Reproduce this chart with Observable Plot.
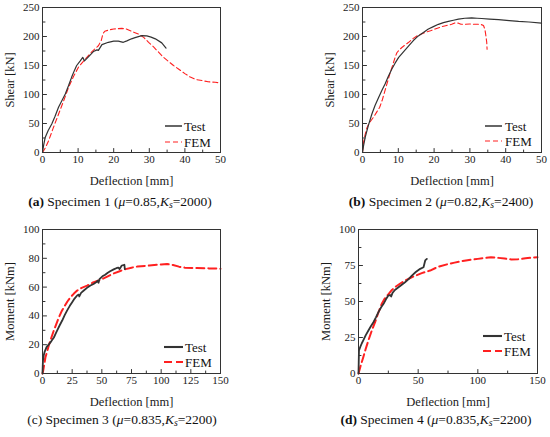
<!DOCTYPE html>
<html><head><meta charset="utf-8">
<script src="https://cdn.jsdelivr.net/npm/d3@7"></script>
<script src="https://cdn.jsdelivr.net/npm/@observablehq/plot@0.6"></script>
<style>
body{margin:0;background:#fff;}
#wrap{position:relative;width:550px;height:437px;overflow:hidden;font-family:'Liberation Serif','Times New Roman',serif;background:#fff;}
.panel{position:absolute;width:275px;height:218px;}
.panel svg{position:absolute;left:0;top:0;}
.cap{position:absolute;width:300px;text-align:center;font-size:13.5px;color:#111;white-space:nowrap;line-height:16px;}
.cap sub{font-size:0.72em;vertical-align:-0.25em;line-height:0;}
svg g[aria-label="x-axis label"] text, svg g[aria-label="y-axis label"] text{font-size:12.5px !important;}
</style>
</head><body>
<div id="wrap"></div>
<script>
// ---------- data ----------
const testA = [[0,0],[0.3,12],[0.75,26],[1.6,38],[2.6,49],[3.5,62],[4.5,78],[5.5,90],[6.4,101],[7.3,115],[8.2,130],[9,142],[9.6,150],[10.6,158],[11.3,164],[11.8,158],[12.9,165],[14.3,174],[15.3,177],[15.7,176],[16.7,186],[18.5,190],[20,192],[21.3,192],[22.7,190],[23.7,192.5],[25,196],[26,198],[27.9,201.5],[29.3,201],[30.5,199],[31.7,196],[33.5,189],[34.7,180]];
const femA = [[0,0],[0.8,8],[1.7,20],[3,42],[4.5,66],[6,90],[7.3,112],[8.7,131],[10.1,147],[12,161],[13.9,174],[15.7,184],[16.5,193],[17,205],[17.5,209],[18.5,211],[20,213],[22.3,214],[23.5,213],[25,209],[27,204],[28.5,198],[29.8,190],[31.2,182],[32.6,173],[34,164],[35.4,157],[36.8,150],[38.2,144],[40,136],[41.5,130],[43,126],[44.8,124],[46.5,122],[48.5,121],[50,120]];
const testB = [[0,0],[0.3,12],[0.75,26],[1.6,46],[2.6,66],[3.5,81],[4.5,95],[5.4,107],[6.3,118],[7.2,131],[8.2,144],[9.1,154],[10.1,164],[11.5,174],[12.9,184],[14.2,193],[15.6,201],[17,207],[18.4,213],[19.8,217],[21.2,221],[22.6,224],[24,226],[25.4,228],[26.8,230],[28.6,231.5],[30.5,232],[32,231.5],[33.3,231],[35.5,230],[38,229],[41,227.5],[43.6,226],[46.5,225],[50,223]];
const femB = [[0,0],[0.3,18],[0.7,30],[1.2,42],[1.8,50],[2.5,56],[3.2,62],[4,70],[4.8,78],[5.5,90],[6.2,105],[7,122],[7.7,137],[8.4,150],[9,162],[9.6,172],[10.3,177],[11,181],[12,186],[12.9,190],[14,196],[15.2,201],[16.3,204],[17.5,207],[19,210],[20.3,213],[22.2,217],[23.5,219],[24.9,221],[26,224],[26.8,223],[27.5,221],[28.7,221],[30,221.5],[31.5,221],[33,221],[33.8,219],[34.2,212],[34.5,200],[34.7,190],[34.8,178]];
const testC = [[0,0],[0.2,5],[0.4,9],[1,12.5],[1.7,14.8],[3.4,18.3],[5.7,20.6],[7.5,22.5],[9.6,25],[11,27.5],[12.4,29.9],[14.5,33.5],[16.6,36.8],[18.7,40.5],[20.8,43.8],[23,47],[25,49.5],[27,52],[29.2,54.2],[30.5,54.8],[31,53.5],[32.5,56],[34.8,57.6],[37.5,59.5],[40.4,61.1],[43,62.2],[45.5,63.5],[46.5,64.5],[47.2,63],[48,65.5],[50.5,67.5],[52.8,68.6],[55,70],[57,71],[60,72.3],[62.6,73.3],[64,73.5],[65,72.5],[66.8,75],[69,75.5],[69.4,72.5]];
const femC = [[0,0],[0.6,2],[1.5,6.5],[2.5,11.3],[4,15.5],[5.3,19.4],[7.5,25],[9.6,30],[11.7,34.5],[13.8,39],[16,43],[18,46],[21,50],[23.6,53],[26.5,55.5],[29.2,57.6],[33,59.5],[37.6,61],[42,63],[47.4,64.6],[50,65.5],[55,67.5],[60,69.5],[65,71],[70,72.5],[75,73.5],[80,74.3],[90,75],[100,75.7],[105,76],[110,75.3],[115,74.2],[120,73.5],[130,73.2],[140,73],[150,72.8]];
const testD = [[0,0],[0.2,8],[0.4,16],[1.5,18.5],[2.8,21],[4,23],[6,26.5],[8.3,29.9],[10.5,33],[12.5,35.6],[14.6,39],[16.7,42.6],[19,46],[21,48.4],[23,51.5],[25,54.2],[26.5,54.5],[27.4,53.5],[28.5,56],[30.5,58],[33.5,59.9],[36,61.5],[39,63.4],[42,65.5],[44.7,68],[48,70.5],[51.7,72.7],[54.5,73.8],[55.9,78.5],[57.3,79.6]];
const femD = [[0,0],[1,3],[2,6],[4,11.3],[6,17],[8.3,23],[11,29.5],[13.9,35.6],[16.5,42],[19.5,48.4],[22,52],[25,55],[28,58],[30.7,60],[35,62.5],[39,64.6],[45,67],[53,69.7],[60,71.5],[66.5,74],[75,76],[80.5,77],[90,78.5],[100,79.6],[111,80.8],[115,80.5],[122.5,79.8],[128,79.2],[133.6,79.3],[140,80],[150,80.8]];

const xTicksAB = [0,10,20,30,40,50];
const yTicksAB = [0,50,100,150,200,250];
const xTicksC = [0,25,50,75,100,125,150];
const yTicksC = [0,20,40,60,80,100];
const xTicksD = [0,50,100,150];
const yTicksD = [0,25,50,75,100];
const seriesNames = ["Test","FEM"];
const captions = [
  '<b>(a)</b> Specimen 1 (<i>μ</i>=0.85,<i>K<sub>s</sub></i>=2000)',
  '<b>(b)</b> Specimen 2 (<i>μ</i>=0.82,<i>K<sub>s</sub></i>=2400)',
  '(c) Specimen 3 (<i>μ</i>=0.835,<i>K<sub>s</sub></i>=2200)',
  '<b>(d)</b> Specimen 4 (<i>μ</i>=0.835,<i>K<sub>s</sub></i>=2200)'
];

// ---------- drawing ----------
const FONT = "'Liberation Serif','Times New Roman',serif";
const DARK = "#333333", RED = "#ff2020";
const tickShape = {draw(ctx, l){ ctx.moveTo(0,0); ctx.lineTo(0,-l); }};
const toObj = a => a.map(([x,y]) => ({x,y}));
const wrap = document.getElementById("wrap");

function minorOf(ticks){
  const out = [];
  for (let i = 0; i < ticks.length - 1; i++) out.push((ticks[i] + ticks[i+1]) / 2);
  return out;
}

function panel(cfg){
  const div = document.createElement("div");
  div.className = "panel";
  div.style.left = cfg.left + "px";
  div.style.top = cfg.top + "px";
  wrap.appendChild(div);
  const xt = cfg.xTicks, yt = cfg.yTicks;
  const svg = Plot.plot({
    width: 275, height: 190,
    marginLeft: cfg.ml, marginRight: cfg.mr, marginTop: cfg.mt, marginBottom: 190 - cfg.fb,
    style: {fontFamily: FONT, fontSize: "11px", color: "#1a1a1a", background: "transparent"},
    x: {domain: [xt[0], xt[xt.length-1]], ticks: xt, tickSize: 0, tickPadding: 3,
        label: "Deflection [mm]", labelAnchor: "center", labelArrow: "none", labelOffset: 32},
    y: {domain: [yt[0], yt[yt.length-1]], ticks: yt, tickSize: 0, tickPadding: 3,
        label: cfg.ylabel, labelAnchor: "center", labelArrow: "none", labelOffset: 37},
    marks: [
      Plot.vector(xt, {x: d => d, frameAnchor: "bottom", length: 4, rotate: 0, anchor: "start", shape: tickShape, stroke: DARK, strokeWidth: 1}),
      Plot.vector(minorOf(xt), {x: d => d, frameAnchor: "bottom", length: 2.5, rotate: 0, anchor: "start", shape: tickShape, stroke: DARK, strokeWidth: 1}),
      Plot.vector(yt, {y: d => d, frameAnchor: "left", length: 4, rotate: 90, anchor: "start", shape: tickShape, stroke: DARK, strokeWidth: 1}),
      Plot.vector(minorOf(yt), {y: d => d, frameAnchor: "left", length: 2.5, rotate: 90, anchor: "start", shape: tickShape, stroke: DARK, strokeWidth: 1}),
      Plot.line(toObj(cfg.fem), {x: "x", y: "y", stroke: RED, strokeWidth: cfg.fw, strokeDasharray: cfg.dash, curve: "linear"}),
      Plot.line(toObj(cfg.test), {x: "x", y: "y", stroke: DARK, strokeWidth: cfg.tw, curve: "linear"}),
      Plot.frame({stroke: DARK, strokeWidth: 1})
    ]
  });
  div.appendChild(svg);
  // legend
  const g = d3.select(svg).append("g").attr("font-family", FONT).attr("font-size", 13)
    .attr("fill", "#111").attr("text-anchor", "start");
  const L = cfg.legend;
  g.append("line").attr("x1", L.x1).attr("x2", L.x2).attr("y1", L.y1).attr("y2", L.y1)
    .attr("stroke", DARK).attr("stroke-width", cfg.tw + 0.3);
  g.append("line").attr("x1", L.x1).attr("x2", L.x2).attr("y1", L.y2).attr("y2", L.y2)
    .attr("stroke", RED).attr("stroke-width", cfg.fw).attr("stroke-dasharray", cfg.dash);
  g.append("text").attr("x", L.tx).attr("y", L.y1).attr("dy", "0.35em").attr("text-anchor", "start").text(seriesNames[0]);
  g.append("text").attr("x", L.tx).attr("y", L.y2).attr("dy", "0.35em").attr("text-anchor", "start").text(seriesNames[1]);
  // caption
  const cap = document.createElement("div");
  cap.className = "cap";
  cap.innerHTML = cfg.caption;
  cap.style.left = (cfg.cx - 150) + "px";
  cap.style.top = (cfg.cy - 8) + "px";
  div.appendChild(cap);
}

panel({left:0, top:0, ml:42, mr:55, mt:7, fb:152, xTicks:xTicksAB, yTicks:yTicksAB, ylabel:"Shear [kN]",
  test:testA, fem:femA, tw:1.2, fw:1.1, dash:"5,3",
  legend:{x1:165, x2:182, tx:184, y1:126, y2:142}, caption:captions[0], cx:120, cy:202});
panel({left:275, top:0, ml:87, mr:9, mt:7, fb:152, xTicks:xTicksAB, yTicks:yTicksAB, ylabel:"Shear [kN]",
  test:testB, fem:femB, tw:1.2, fw:1.1, dash:"5,3",
  legend:{x1:210, x2:227, tx:230, y1:126, y2:141}, caption:captions[1], cx:166, cy:202});
panel({left:0, top:220, ml:42, mr:55, mt:9, fb:153, xTicks:xTicksC, yTicks:yTicksC, ylabel:"Moment [kNm]",
  test:testC, fem:femC, tw:1.8, fw:2, dash:"8,4",
  legend:{x1:164, x2:183, tx:185, y1:127, y2:142}, caption:captions[2], cx:122, cy:200});
panel({left:275, top:220, ml:83, mr:13, mt:9, fb:153, xTicks:xTicksD, yTicks:yTicksD, ylabel:"Moment [kNm]",
  test:testD, fem:femD, tw:1.8, fw:2, dash:"8,4",
  legend:{x1:208, x2:227, tx:229, y1:116, y2:131}, caption:captions[3], cx:161, cy:200});
</script>
</body></html>
